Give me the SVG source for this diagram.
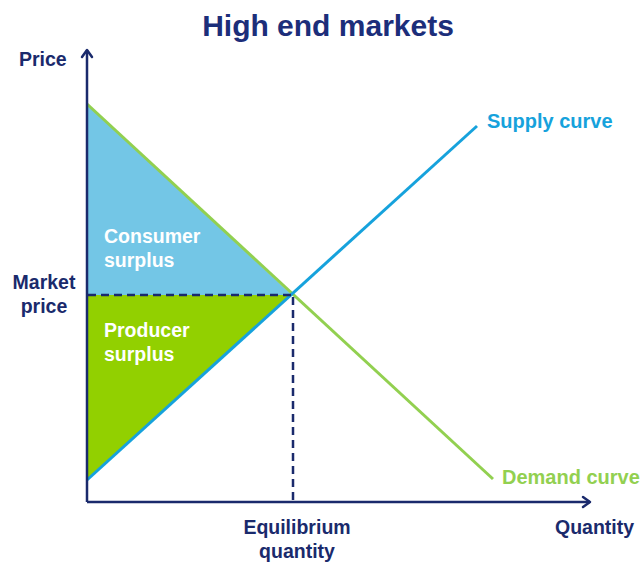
<svg xmlns="http://www.w3.org/2000/svg" width="640" height="562" viewBox="0 0 640 562">
<defs>
<style>
text{font-family:"Liberation Sans",Arial,sans-serif;font-weight:bold}
.navy{fill:#1A2A6C}
.white{fill:#FFFFFF}
.axis{stroke:#1A2A6C;stroke-width:2.5;fill:none}
.arrow{stroke:#1A2A6C;stroke-width:2.5;fill:none;stroke-linecap:round;stroke-linejoin:round}
.dash{stroke:#1A2A6C;stroke-width:2.5;stroke-dasharray:8,5;fill:none}
</style>
</defs>
<rect width="640" height="562" fill="#FFFFFF"/>
<text x="328" y="36" text-anchor="middle" font-size="30" fill="#1C2E7A">High end markets</text>
<g id="consumer-surplus">
<polygon points="87,104 292,295 87,295" fill="#73C6E6"/>
<text x="104" y="243" font-size="19.5" class="white">Consumer</text>
<text x="104" y="267" font-size="19.5" class="white">surplus</text>
</g>
<g id="producer-surplus">
<polygon points="87,295 292,295 87,480" fill="#92D000"/>
<text x="104" y="337" font-size="19.5" class="white">Producer</text>
<text x="104" y="361" font-size="19.5" class="white">surplus</text>
</g>
<g id="connectors">
<line x1="87" y1="104" x2="493" y2="479" stroke="#92D050" stroke-width="3"/>
<line x1="87" y1="480" x2="477" y2="126" stroke="#16A2DC" stroke-width="3"/>
<line x1="88" y1="295" x2="292" y2="295" class="dash"/>
<line x1="293" y1="297" x2="293" y2="500" class="dash"/>
<line x1="87" y1="502" x2="87" y2="50" class="axis"/>
<polyline points="82,57 87,50 92,57" class="arrow"/>
<line x1="87" y1="502" x2="590" y2="502" class="axis"/>
<polyline points="583,497 590,502 583,507" class="arrow"/>
</g>
<g id="price-label"><text x="19" y="66" font-size="19.5" class="navy">Price</text></g>
<g id="market-price-label">
<text x="44" y="289" text-anchor="middle" font-size="19.5" class="navy">Market</text>
<text x="44" y="313" text-anchor="middle" font-size="19.5" class="navy">price</text>
</g>
<g id="supply-label"><text x="487" y="128" font-size="20" fill="#16A2DC">Supply curve</text></g>
<g id="demand-label"><text x="502" y="484" font-size="20" fill="#92D050">Demand curve</text></g>
<g id="equilibrium-label">
<text x="297" y="534" text-anchor="middle" font-size="19.5" class="navy">Equilibrium</text>
<text x="297" y="558" text-anchor="middle" font-size="19.5" class="navy">quantity</text>
</g>
<g id="quantity-label"><text x="555" y="534" font-size="19.5" class="navy">Quantity</text></g>
</svg>
